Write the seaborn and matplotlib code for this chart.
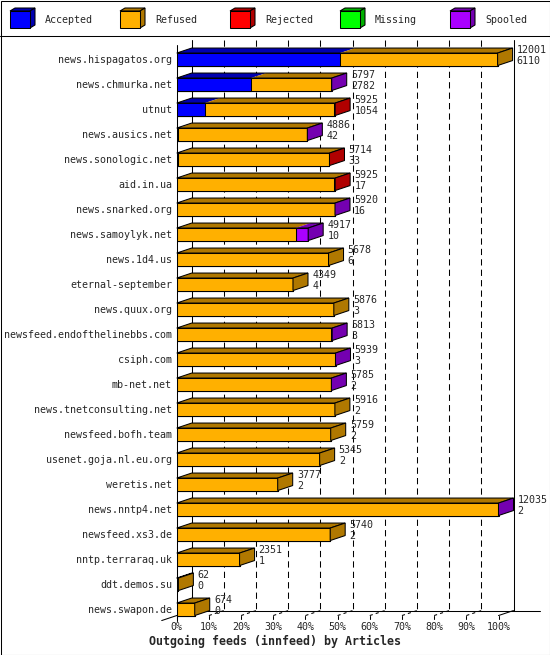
import pandas as pd
import seaborn as sns
import matplotlib.pyplot as plt
from matplotlib.patches import Polygon, Rectangle

# --- data ---
hosts = ["news.hispagatos.org", "news.chmurka.net", "utnut", "news.ausics.net",
         "news.sonologic.net", "aid.in.ua", "news.snarked.org", "news.samoylyk.net",
         "news.1d4.us", "eternal-september", "news.quux.org",
         "newsfeed.endofthelinebbs.com", "csiph.com", "mb-net.net",
         "news.tnetconsulting.net", "newsfeed.bofh.team", "usenet.goja.nl.eu.org",
         "weretis.net", "news.nntp4.net", "newsfeed.xs3.de", "nntp.terraraq.uk",
         "ddt.demos.su", "news.swapon.de"]
offered = [12001, 5797, 5925, 4886, 5714, 5925, 5920, 4917, 5678, 4349, 5876,
           5813, 5939, 5785, 5916, 5759, 5345, 3777, 12035, 5740, 2351, 62, 674]
accepted = [6110, 2782, 1054, 42, 33, 17, 16, 10, 6, 4, 3,
            3, 3, 2, 2, 2, 2, 2, 2, 2, 1, 0, 0]
refused = [5891, 2990, 4811, 4824, 5661, 5858, 5889, 4437, 5672, 4345, 5873,
           5770, 5921, 5768, 5914, 5757, 5343, 3775, 12013, 5738, 2350, 62, 674]
rejected = [0, 0, 60, 0, 20, 50, 0, 0, 0, 0, 0,
            0, 0, 0, 0, 0, 0, 0, 0, 0, 0, 0, 0]
missing = [0, 0, 0, 0, 0, 0, 0, 0, 0, 0, 0,
           0, 0, 0, 0, 0, 0, 0, 0, 0, 0, 0, 0]
spooled = [0, 25, 0, 20, 0, 0, 15, 470, 0, 0, 0,
           40, 15, 15, 0, 0, 0, 0, 20, 0, 0, 0, 0]

categories = ["Accepted", "Refused", "Rejected", "Missing", "Spooled"]
front_colors = ["#0000ff", "#ffb000", "#ff0000", "#00ff00", "#aa00ff"]
dark_colors = ["#0000b0", "#b07800", "#b00000", "#00b000", "#7400b0"]
tick_labels = ["0%", "10%", "20%", "30%", "40%", "50%", "60%", "70%", "80%", "90%", "100%"]

df = pd.DataFrame({"host": hosts, "Accepted": accepted, "Refused": refused,
                   "Rejected": rejected, "Missing": missing, "Spooled": spooled})
scale = df[categories].sum(axis=1).max()
pct = df[categories].div(scale).mul(100)
cum = pct.cumsum(axis=1)

sns.set_style("white")
plt.rcParams["font.family"] = ["DejaVu Sans Mono"]
FS = 7.2
LW = 0.75

W, H = 550, 655
fig = plt.figure(figsize=(W / 100, H / 100), dpi=100)

# geometry (pixels of the original image)
x0_px, x_scale = 176.7, 3.218
row0_px, row_px = 59.3, 25.0
DX = 15 / x_scale
DY = 5 / row_px
HALF = 0.25


def row(py):
    return (py - row0_px) / row_px


ax_left, ax_right = x0_px, x0_px + (100 + DX) * x_scale
ax_top, ax_bot = 40, 621
ax = fig.add_axes([ax_left / W, 1 - ax_bot / H, (ax_right - ax_left) / W, (ax_bot - ax_top) / H])
ax.patch.set_alpha(0)

# front faces: layered cumulative bars
for cat, col in reversed(list(zip(categories, front_colors))):
    part = pd.DataFrame({"host": hosts, "end": cum[cat].values})
    sns.barplot(data=part, x="end", y="host", order=hosts, orient="h", color=col,
                saturation=1, width=2 * HALF, edgecolor="black", linewidth=LW,
                errorbar=None, ax=ax, zorder=3)

floor_y = len(hosts) - 1 + HALF - DY

# back wall, grid and floor
ax.plot([DX, DX], [row(ax_top), floor_y], color="black", lw=LW, zorder=1, clip_on=False)
ax.plot([100 + DX, 100 + DX], [row(ax_top), floor_y], color="black", lw=LW, zorder=1, clip_on=False)
for k in range(1, 10):
    ax.plot([10 * k + DX] * 2, [row(ax_top), floor_y], color="black", lw=LW,
            dashes=(6, 4), zorder=1, clip_on=False)
ax.plot([0, 0], [row(45), row(621)], color="black", lw=LW, zorder=1, clip_on=False)
ax.plot([DX, (540 - x0_px) / x_scale], [floor_y, floor_y], color="black", lw=LW, zorder=1, clip_on=False)
front_y = len(hosts) - 1 + HALF
ax.plot([-DX, DX], [front_y + DY, floor_y], color="black", lw=LW, zorder=1, clip_on=False)
ax.plot([100, 100 + DX], [front_y, floor_y], color="black", lw=LW, zorder=1, clip_on=False)
for k, lab in enumerate(tick_labels):
    xk = 10 * k
    ax.plot([xk, xk], [front_y, front_y + 0.13], color="black", lw=LW, clip_on=False)
    if 0 < k < 10:
        ax.plot([xk, xk + DX], [front_y, floor_y], color="black", lw=LW,
                dashes=(3, 3), clip_on=False)
    ax.text(xk, row(627), lab, ha="center", va="center", fontsize=FS)

# 3D top and side faces
for i in range(len(hosts)):
    y_top = i - HALF
    last = None
    for j, cat in enumerate(categories):
        w = pct.loc[i, cat]
        if w <= 0:
            continue
        xe = cum.loc[i, cat]
        xs = xe - w
        ax.add_patch(Polygon([(xs, y_top), (xe, y_top), (xe + DX, y_top - DY), (xs + DX, y_top - DY)],
                             closed=True, facecolor=dark_colors[j], edgecolor="none",
                             zorder=3, clip_on=False))
        last = j
    xe = cum.loc[i, categories[-1]]
    ax.add_patch(Polygon([(0, y_top), (xe, y_top), (xe + DX, y_top - DY), (DX, y_top - DY)],
                         closed=True, facecolor="none", edgecolor="black", lw=LW,
                         zorder=4, clip_on=False))
    ax.add_patch(Polygon([(xe, y_top), (xe, i + HALF), (xe + DX, i + HALF - DY), (xe + DX, y_top - DY)],
                         closed=True, facecolor=dark_colors[last], edgecolor="black", lw=LW,
                         zorder=4, clip_on=False))
    tx = xe + DX + 1.3
    ax.text(tx, i - 0.36, str(offered[i]), ha="left", va="center", fontsize=FS)
    ax.text(tx, i + 0.08, str(accepted[i]), ha="left", va="center", fontsize=FS)

ax.set_xlim(0, 100 + DX)
ax.set_ylim(row(ax_bot), row(ax_top))
ax.set_xticks([])
ax.set_xlabel("")
ax.set_ylabel("")
ax.tick_params(axis="y", length=0, pad=3.4, labelsize=FS)
for s in ax.spines.values():
    s.set_visible(False)

# overlay in pixel coordinates: frame, legend, title
ov = fig.add_axes([0, 0, 1, 1])
ov.set_xlim(0, W)
ov.set_ylim(H, 0)
ov.axis("off")
ov.add_patch(Rectangle((0.5, 0.5), W - 1, H - 1, facecolor="none", edgecolor="black", lw=LW))
ov.plot([0, W], [35.5, 35.5], color="black", lw=LW)
for k, (cat, fc, dc) in enumerate(zip(categories, front_colors, dark_colors)):
    lx = 10 + 110 * k
    ov.add_patch(Polygon([(lx, 11), (lx + 20, 11), (lx + 25, 8), (lx + 5, 8)],
                         closed=True, facecolor=dc, edgecolor="black", lw=LW))
    ov.add_patch(Polygon([(lx + 20, 11), (lx + 20, 28), (lx + 25, 25), (lx + 25, 8)],
                         closed=True, facecolor=dc, edgecolor="black", lw=LW))
    ov.add_patch(Rectangle((lx, 11), 20, 17, facecolor=fc, edgecolor="black", lw=LW))
    ov.text(lx + 35, 20, cat, ha="left", va="center", fontsize=FS)
ov.text(W / 2, 641, "Outgoing feeds (innfeed) by Articles", ha="center", va="center",
        fontsize=8.4, fontweight="bold")

fig.savefig("out.png", dpi=100, facecolor="white")
